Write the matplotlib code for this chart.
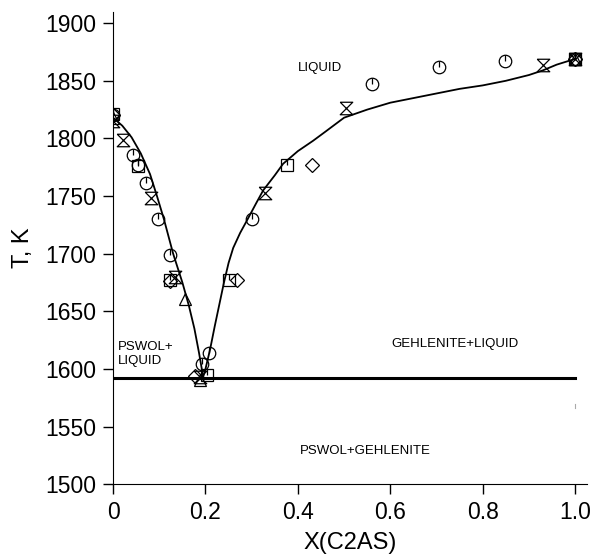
import matplotlib
matplotlib.use("Agg")
import matplotlib.pyplot as plt
from matplotlib.path import Path

plt.rcParams['font.family'] = ['Liberation Sans', 'DejaVu Sans']

# liquidus curve
left_x = [0, 0.02, 0.04, 0.06, 0.08, 0.095, 0.11, 0.13, 0.15, 0.164, 0.176, 0.186, 0.195]
left_t = [1818, 1811, 1801, 1787, 1769, 1750, 1730, 1700, 1675, 1655, 1635, 1614, 1593]
right_x = [0.195, 0.20, 0.21, 0.22, 0.23, 0.24, 0.25, 0.26, 0.275, 0.29, 0.31, 0.325,
           0.35, 0.368, 0.40, 0.433, 0.46, 0.50, 0.55, 0.60, 0.65, 0.70, 0.75, 0.80,
           0.85, 0.90, 0.93, 0.96, 1.0]
right_t = [1593, 1600, 1617, 1637, 1656, 1675, 1692, 1705, 1718, 1729, 1744, 1755,
           1768, 1778, 1789, 1798, 1806, 1818, 1825, 1831, 1835, 1839, 1843, 1846,
           1850, 1855, 1859, 1864, 1869]
eutectic_t = 1592

# experimental points by symbol
circ_x = [0, 0.043, 0.054, 0.071, 0.097, 0.123, 0.193, 0.208, 0.301, 0.561, 0.706, 0.849, 1.0]
circ_t = [1820, 1786, 1777, 1761, 1730, 1699, 1604, 1614, 1730, 1847, 1862, 1867, 1869]
hour_x = [0, 0.022, 0.082, 0.134, 0.188, 0.329, 0.504, 0.931, 1.0]
hour_t = [1815, 1799, 1748, 1680, 1593, 1753, 1826, 1864, 1869]
sq_x = [0, 0.054, 0.123, 0.203, 0.251, 0.376, 1.0]
sq_t = [1821, 1776, 1677, 1595, 1677, 1777, 1869]
dia_x = [0, 0.123, 0.177, 0.268, 0.430, 1.0]
dia_t = [1820, 1676, 1594, 1677, 1777, 1869]
tri_x = [0, 0.156, 0.188, 1.0]
tri_t = [1818, 1661, 1590, 1869]

xticks = [0, 0.2, 0.4, 0.6, 0.8, 1.0]
xtick_labels = ['0', '0.2', '0.4', '0.6', '0.8', '1.0']
yticks = [1500, 1550, 1600, 1650, 1700, 1750, 1800, 1850, 1900]

hourglass = Path([(-1, 1), (1, 1), (-1, -1), (1, -1), (-1, 1)])
tick_mark = Path([(0, 0), (0, 1)])

fig = plt.figure(figsize=(5.92, 5.54), dpi=100)
ax = fig.add_axes([0.191, 0.126, 0.80, 0.853])

ax.plot(left_x, left_t, color='black', lw=1.3)
ax.plot(right_x, right_t, color='black', lw=1.3)
ax.plot([0, 1.0], [eutectic_t, eutectic_t], color='black', lw=2.2)
ax.plot([1.0, 1.0], [1566, 1570], color='#aaaaaa', lw=0.8)

mk = dict(ls='none', mfc='none', mec='black', mew=0.9)
ax.plot(sq_x, sq_t, marker='s', ms=9, **mk)
ax.plot(dia_x, dia_t, marker='D', ms=7.5, **mk)
ax.plot(tri_x, tri_t, marker='^', ms=9, **mk)
ax.plot(hour_x, hour_t, marker=hourglass, ms=9, **mk)
ax.plot(circ_x, circ_t, marker='o', ms=9, **mk)
ax.plot(circ_x, circ_t, marker=tick_mark, ms=9, **mk)
ax.plot(sq_x, sq_t, marker=tick_mark, ms=9, **mk)

ax.text(0.448, 1861, 'LIQUID', fontsize=9.5, ha='center', va='center')
ax.text(0.011, 1613, 'PSWOL+\nLIQUID', fontsize=9.5, ha='left', va='center', linespacing=1.3)
ax.text(0.74, 1622, 'GEHLENITE+LIQUID', fontsize=9.5, ha='center', va='center')
ax.text(0.545, 1529, 'PSWOL+GEHLENITE', fontsize=9.5, ha='center', va='center')

ax.set_xlim(0, 1.025)
ax.set_ylim(1500, 1910)
ax.set_xticks(xticks)
ax.set_xticklabels(xtick_labels)
ax.set_yticks(yticks)
ax.spines['top'].set_visible(False)
ax.spines['right'].set_visible(False)
ax.tick_params(direction='out', length=7, width=1, labelsize=16.5, pad=5)
ax.set_xlabel('X(C2AS)', fontsize=17, labelpad=6)
ax.set_ylabel('T, K', fontsize=17, labelpad=8)

fig.savefig('out.png', dpi=100)
